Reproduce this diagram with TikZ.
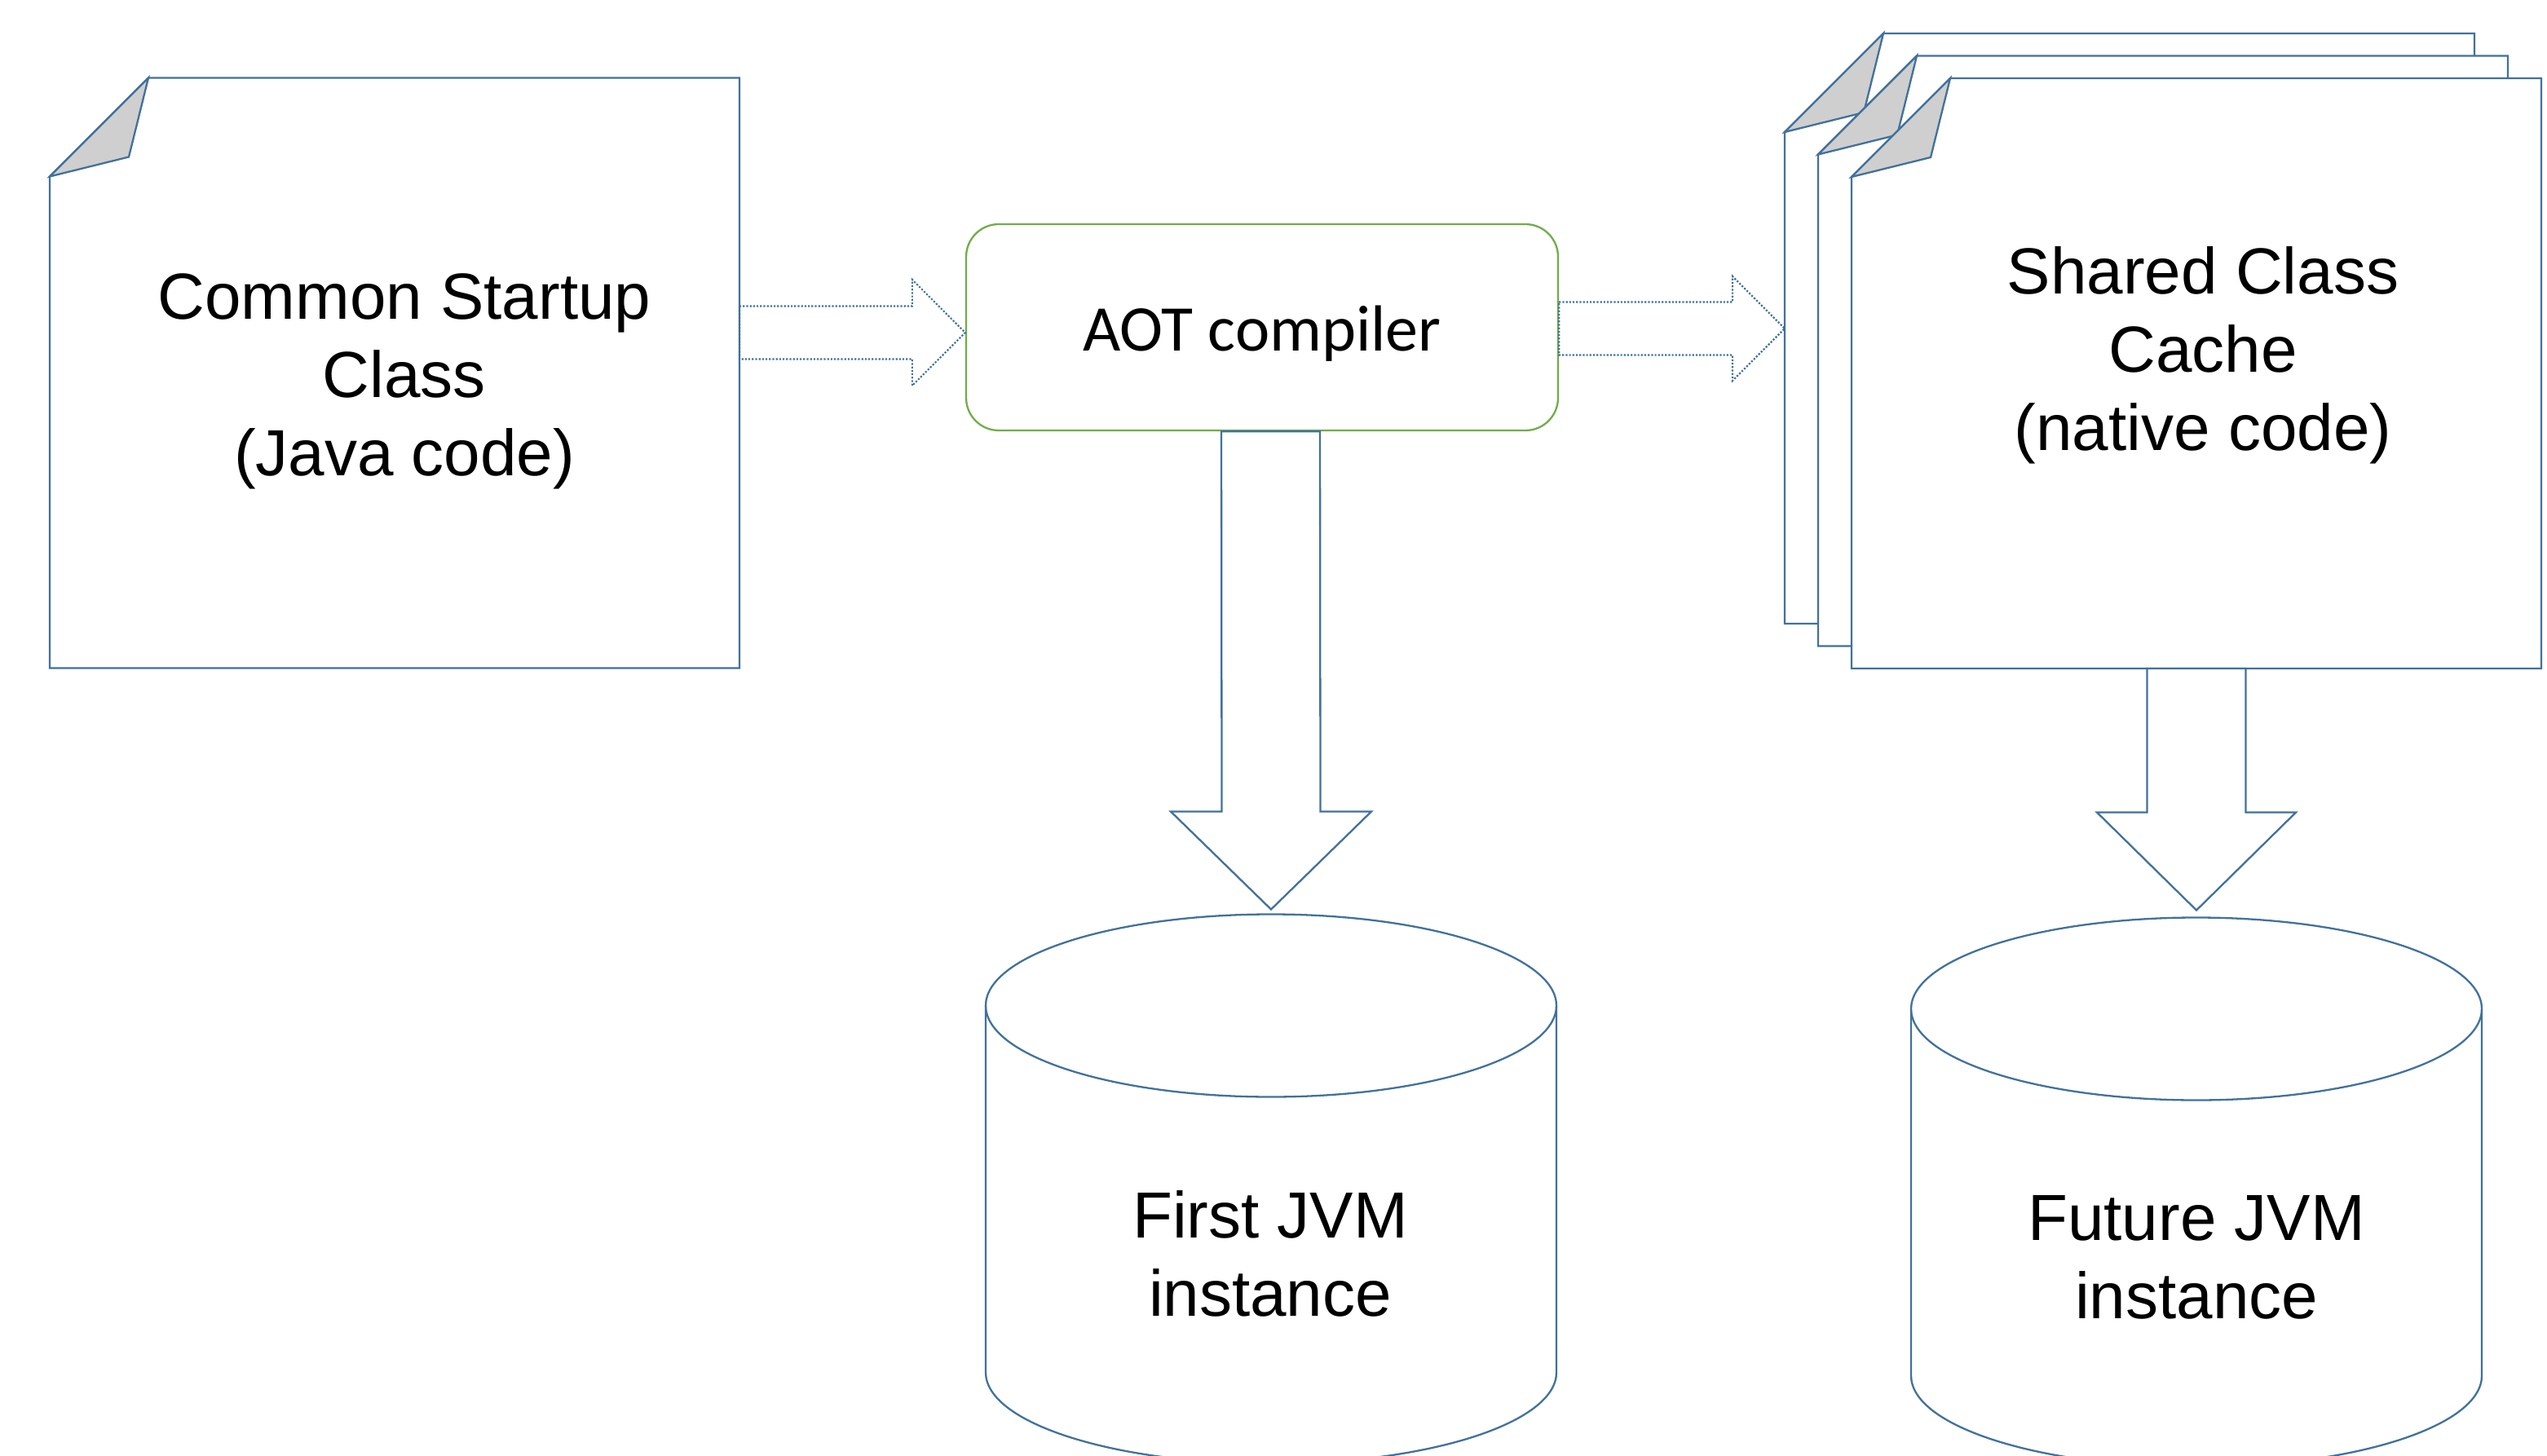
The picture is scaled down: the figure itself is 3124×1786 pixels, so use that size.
\documentclass[tikz,border=0pt]{standalone}
\usepackage{fontspec}
\setmainfont{Liberation Sans}
\newfontfamily\calfont{Carlito}
\usetikzlibrary{calc}
\definecolor{lineblue}{HTML}{41719C}
\definecolor{boxgreen}{HTML}{70AD47}
\definecolor{foldgray}{HTML}{CFCFCF}
\newcommand\mydocshape[1]{%
  \filldraw[outline, fill=white] ($(#1.north west)+(0,121)$) -- ($(#1.north west)+(121,0)$) -- (#1.north east) -- (#1.south east) -- (#1.south west) -- cycle;
  \filldraw[fold] ($(#1.north west)+(0,121)$) -- ($(#1.north west)+(121,0)$) -- ($(#1.north west)+(97,97)$) -- cycle;}
\newcommand\mycylshape[1]{%
  \draw[outline] (#1.north west) ++(0,112) coordinate (#1l) -- ++(0,450)
     arc[start angle=180, end angle=360, x radius=175pt, y radius=56pt] -- ($(#1.north east)+(0,112)$);
  \draw[outline] ($(#1.north)+(0,112)$) ellipse [x radius=175pt, y radius=56pt];}
\begin{document}
\begin{tikzpicture}[x=0.5pt,y=-0.5pt,
  outline/.style={draw=lineblue, line width=1.15pt, line join=miter},
  fold/.style={outline, fill=foldgray},
  blockarrow/.style={outline, fill=white},
  dotarrow/.style={draw=lineblue, line width=1.1pt, dash pattern=on 1.1pt off 1pt},
  docbox/.style={minimum width=423pt, minimum height=362pt, inner sep=0pt, outer sep=0pt},
  cylbox/.style={minimum width=350pt, minimum height=337pt, inner sep=0pt, outer sep=0pt},
  bigtext/.style={font=\fontsize{40pt}{48pt}\selectfont, align=center, text=black, inner sep=0pt},
]
\useasboundingbox (0,0) rectangle (3124,1786);

% shape placeholders
\node[docbox] (src) at (484,457.5) {};
\node[docbox] (scc1) at (2612,403) {};
\node[docbox] (scc2) at (2653,430.5) {};
\node[docbox] (scc3) at (2694,458) {};
\node[cylbox] (jvm1) at (1559,1458.5) {};
\node[cylbox] (jvm2) at (2694,1462.5) {};

% documents
\mydocshape{src}
\mydocshape{scc1}
\mydocshape{scc2}
\mydocshape{scc3}

% cylinders
\mycylshape{jvm1}
\mycylshape{jvm2}

% AOT compiler box
\node[draw=boxgreen, line width=1.15pt, rounded corners=20pt, minimum width=363pt, minimum height=126.5pt, inner sep=0pt]
  (aot) at (1548,401.5) {};
\node[inner sep=0pt, font=\calfont\fontsize{40pt}{48pt}\selectfont] (aott) at (1548,409) {AOT compiler};

% texts
\node[bigtext] (srct) at (496,468) {Common Startup\\Class\\(Java code)};
\node[bigtext] (scct) at (2702,436) {Shared Class\\Cache\\(native code)};
\node[bigtext] (jvm1t) at (1558,1538) {First JVM\\instance};
\node[bigtext] (jvm2t) at (2694,1542) {Future JVM\\instance};

% dotted block arrows
\coordinate (h1s) at ($(src.east)+(0,-49.5)$);
\coordinate (h1t) at (aot.west |- h1s);
\draw[dotarrow] ($(h1s)+(0,-32.5)$) -- ($(h1t)+(-65,-32.5)$) -- ($(h1t)+(-65,-65)$) -- (h1t)
  -- ($(h1t)+(-65,65)$) -- ($(h1t)+(-65,32.5)$) -- ($(h1s)+(0,32.5)$) -- cycle;
\coordinate (h2s) at ($(aot.east)+(0,1.5)$);
\coordinate (h2t) at (scc1.west |- h2s);
\draw[dotarrow] ($(h2s)+(0,-32.5)$) -- ($(h2t)+(-64,-32.5)$) -- ($(h2t)+(-64,-64)$) -- (h2t)
  -- ($(h2t)+(-64,64)$) -- ($(h2t)+(-64,32.5)$) -- ($(h2s)+(0,32.5)$) -- cycle;

% solid down block arrows
\coordinate (v1s) at ($(aot.south)+(10.5,0)$);
\coordinate (v1t) at ($(jvm1.north)+(0,-6)$);
\draw[blockarrow] ($(v1s)+(-60.5,0)$) -- ($(v1t)+(-60.5,-120)$) -- ($(v1t)+(-123,-120)$) -- (v1t)
  -- ($(v1t)+(123,-120)$) -- ($(v1t)+(60.5,-120)$) -- ($(v1s)+(60.5,0)$) -- cycle;
\coordinate (v2s) at (scc3.south);
\coordinate (v2t) at ($(jvm2.north)+(0,-9)$);
\draw[blockarrow] ($(v2s)+(-60.5,0)$) -- ($(v2t)+(-60.5,-120)$) -- ($(v2t)+(-122,-120)$) -- (v2t)
  -- ($(v2t)+(122,-120)$) -- ($(v2t)+(60.5,-120)$) -- ($(v2s)+(60.5,0)$) -- cycle;
\end{tikzpicture}
\end{document}
